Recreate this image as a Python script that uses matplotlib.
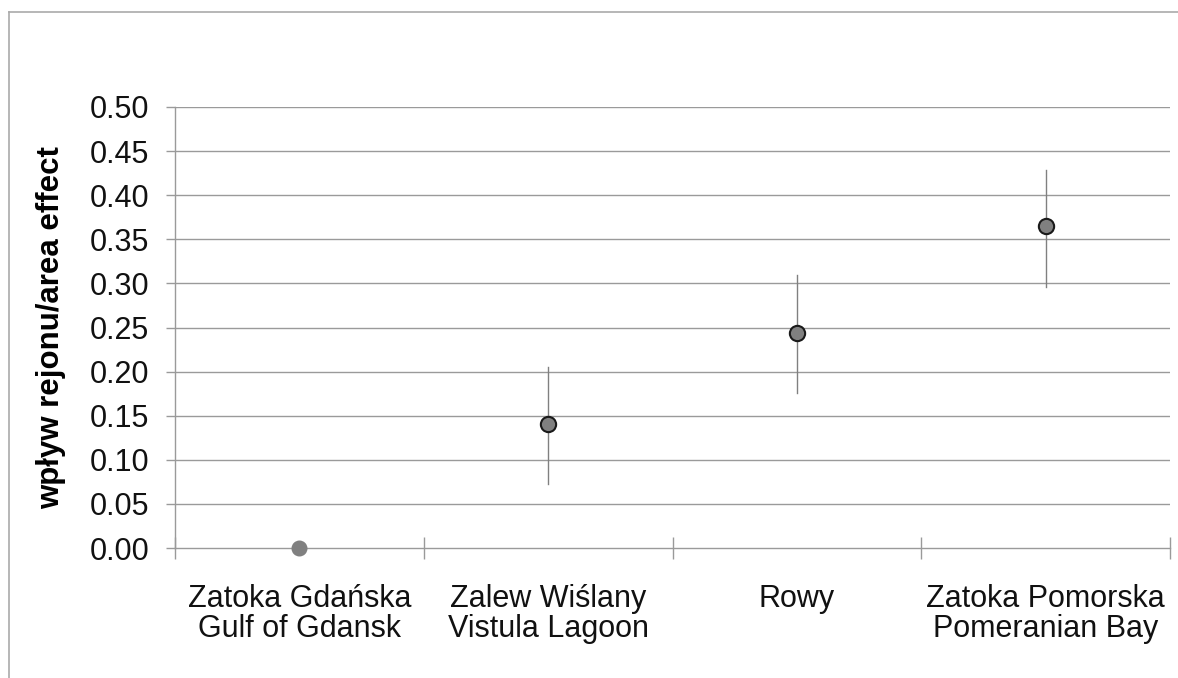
import matplotlib
matplotlib.use("Agg")
from matplotlib import pyplot as plt
from matplotlib.lines import Line2D
import numpy as np

plt.rcParams['font.family'] = ['Liberation Sans', 'DejaVu Sans']

areas = ["Zatoka Gdańska\nGulf of Gdansk", "Zalew Wiślany\nVistula Lagoon",
         "Rowy", "Zatoka Pomorska\nPomeranian Bay"]
effect = [0.0, 0.141, 0.244, 0.365]
err_low = [0.0, 0.073, 0.176, 0.296]
err_high = [0.0, 0.205, 0.310, 0.429]
yticks = [0.00, 0.05, 0.10, 0.15, 0.20, 0.25, 0.30, 0.35, 0.40, 0.45, 0.50]

fig = plt.figure(figsize=(11.78, 6.78), dpi=100)
ax = fig.add_axes([0.1486, 0.1917, 0.8446, 0.6505])

x = np.arange(1, len(areas) + 1)
grid_col = "#9a9a9a"

for yv in yticks[1:]:
    ax.axhline(yv, color=grid_col, lw=1.0, zorder=1)

# error bars (reference point has none)
for i in range(1, len(x)):
    ax.plot([x[i], x[i]], [err_low[i], err_high[i]], color="#808080", lw=1.0, zorder=2)

ax.plot(x[0], effect[0], "o", ms=10.5, mfc="#808080", mec="#808080", zorder=3, clip_on=False)
ax.plot(x[1:], effect[1:], "o", ms=11, mfc="#808080", mec="#1a1a1a", mew=1.5, zorder=3, ls="none")

ax.set_xlim(0.5, 4.5)
ax.set_ylim(0, 0.5)
ax.set_yticks(yticks)
ax.set_yticklabels([f"{v:.2f}" for v in yticks])
ax.set_xticks(x)
ax.set_xticklabels(areas)
ax.set_xticks(np.arange(0.5, 4.6, 1.0), minor=True)

ax.tick_params(axis="y", which="major", direction="out", length=6.5, width=1.0,
               color=grid_col, labelsize=22, pad=12)
ax.tick_params(axis="x", which="major", length=0, labelsize=22, pad=26)
ax.tick_params(axis="x", which="minor", direction="inout", length=16, width=1.0, color=grid_col)
for lab in ax.get_xticklabels():
    lab.set_linespacing(1.0)
    lab.set_color("#111111")
for lab in ax.get_yticklabels():
    lab.set_color("#111111")

for s in ["top", "right"]:
    ax.spines[s].set_visible(False)
ax.spines["left"].set_color(grid_col)
ax.spines["bottom"].set_color(grid_col)
ax.spines["left"].set_linewidth(1.0)
ax.spines["bottom"].set_linewidth(1.0)

ax.set_ylabel("wpływ rejonu/area effect", fontsize=22.5, fontweight="bold")
ax.yaxis.set_label_coords(-109 / 995, 0.5)

# outer frame (top and left)
W, H = 1178, 678
fig.add_artist(Line2D([9 / W, 1.0], [1 - 12 / H, 1 - 12 / H], color="#aaaaaa", lw=1.2))
fig.add_artist(Line2D([9 / W, 9 / W], [0, 1 - 12 / H], color="#aaaaaa", lw=1.2))

fig.savefig("out.png", dpi=100)
